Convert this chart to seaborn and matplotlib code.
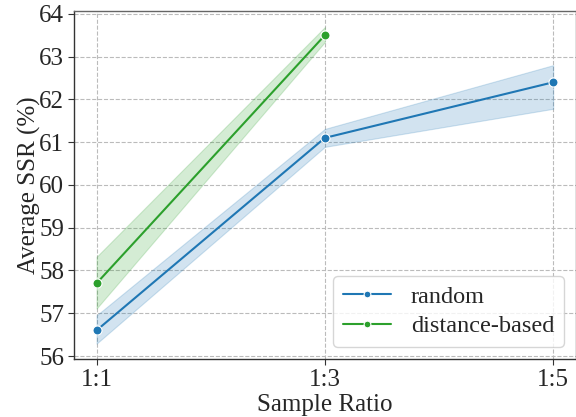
import numpy as np
import pandas as pd
import matplotlib
matplotlib.use('Agg')
import matplotlib.pyplot as plt
import seaborn as sns

# values
ratio_pos = [1, 3, 5]
ratio_labels = ['1:1', '1:3', '1:5']

random_mean = [56.6, 61.1, 62.4]
random_low = [56.29, 60.89, 61.78]
random_high = [56.95, 61.31, 62.80]

dist_pos = [1, 3]
dist_mean = [57.7, 63.5]
dist_low = [57.11, 63.34]
dist_high = [58.32, 63.69]

df = pd.concat([
    pd.DataFrame({'ratio': ratio_pos, 'ssr': random_mean, 'method': 'random'}),
    pd.DataFrame({'ratio': dist_pos, 'ssr': dist_mean, 'method': 'distance-based'}),
])

sns.set_style('white')
plt.rcParams['font.family'] = ['Liberation Serif', 'TeX Gyre Termes', 'DejaVu Serif']

blue = '#1f77b4'
green = '#2ca02c'

fig, ax = plt.subplots(figsize=(5.76, 4.17), dpi=100)
sns.lineplot(data=df, x='ratio', y='ssr', hue='method', palette=[blue, green],
             marker='o', markersize=6.5, markeredgecolor='white', markeredgewidth=0.8,
             linewidth=1.5, errorbar=None, ax=ax)
ax.fill_between(ratio_pos, random_low, random_high, color=blue, alpha=0.2, linewidth=0.8)
ax.fill_between(dist_pos, dist_low, dist_high, color=green, alpha=0.2, linewidth=0.8)

ax.set_xticks(ratio_pos)
ax.set_xticklabels(ratio_labels)
ax.set_xlim(0.8, 5.2)
ax.set_ylim(55.93, 64.07)
ax.set_yticks(np.arange(56, 65, 1))
ax.grid(True, linestyle='--', color='#bbbbbb', linewidth=0.8)
ax.tick_params(axis='both', labelsize=18, length=4, width=0.8, color='#333333',
               left=True, bottom=True, pad=3)
ax.set_xlabel('Sample Ratio', fontsize=18, labelpad=2)
ax.set_ylabel('Average SSR (%)', fontsize=18, labelpad=-1.5)
for side in ['left', 'bottom']:
    ax.spines[side].set_color('#333333')
    ax.spines[side].set_linewidth(1.0)
for side in ['top', 'right']:
    ax.spines[side].set_color('#666666')
    ax.spines[side].set_linewidth(1.0)

ax.legend(loc='lower right', fontsize=17.5, frameon=True, framealpha=0.8,
          borderpad=0.4, handlelength=2.0, labelspacing=0.3, markerscale=0.75)

fig.subplots_adjust(left=0.128, right=1.0, top=0.974, bottom=0.139)
fig.savefig('out.png', dpi=100)
